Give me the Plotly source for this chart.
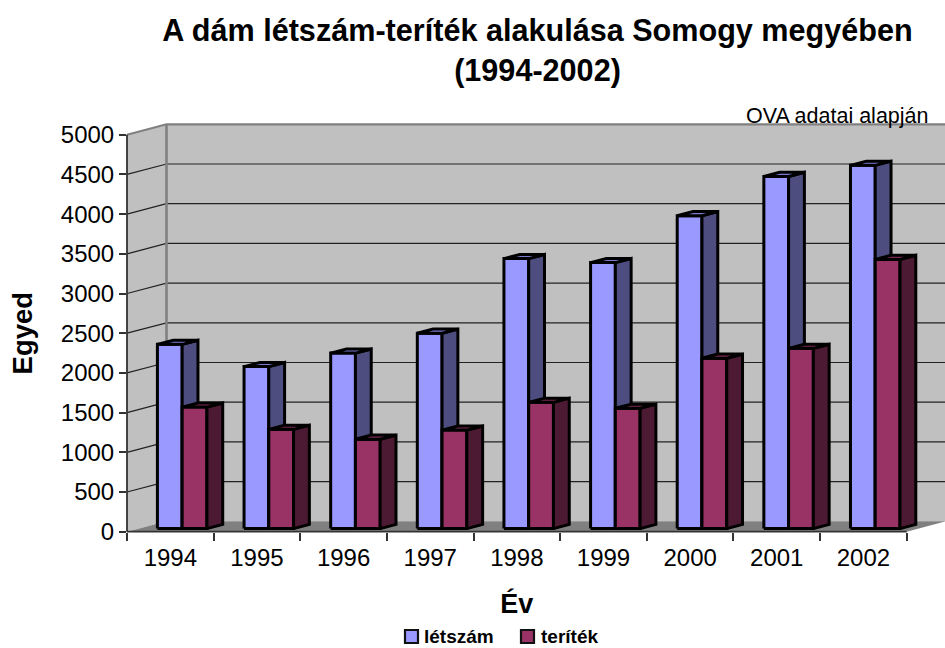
import plotly.graph_objects as go

years = ["1994", "1995", "1996", "1997", "1998", "1999", "2000", "2001", "2002"]
letszam = [2320, 2040, 2210, 2460, 3400, 3350, 3940, 4435, 4575]
teritek = [1530, 1250, 1125, 1240, 1590, 1515, 2145, 2270, 3390]
y_ticks = [0, 500, 1000, 1500, 2000, 2500, 3000, 3500, 4000, 4500, 5000]
series_names = ["létszám", "teríték"]
series_colors = ["#9999FF", "#993366"]

W, H = 945, 648
L, R, T, B = 127.0, 906.7, 134.7, 531.7   # front plane of the 3-D box
OL, OT, OB = 120.0, 115.0, 538.0          # wider drawing area for the box
UX = (R - L) / 9          # pixels per category
UY = (B - T) / 5000       # pixels per value unit
DX = 39.5 / UX            # wall depth in x units
DY = 10.4 / UY            # wall depth in y units
BAR_W = 1 / 3.5
D0, D1 = 0.3, 0.7
PW, PH = W - OL, OB - OT


def P(u, v, d=0.0):
    return u + d * DX, v + d * DY


def px(x):
    return (x - OL) / PW


def py(y):
    return (OB - y) / PH


fig = go.Figure()


def poly(points, fill, line=None, lw=0, name=None):
    xs = [p[0] for p in points] + [points[0][0]]
    ys = [p[1] for p in points] + [points[0][1]]
    fig.add_trace(go.Scatter(
        x=xs, y=ys, xaxis="x2", yaxis="y2", mode="lines", fill="toself", fillcolor=fill,
        line=dict(color=line or fill, width=lw), name=name, showlegend=False,
        hoverinfo="skip"))


def lines(xs, ys, color, width):
    fig.add_trace(go.Scatter(
        x=xs, y=ys, xaxis="x2", yaxis="y2", mode="lines", line=dict(color=color, width=width),
        showlegend=False, hoverinfo="skip"))


n = len(years)
# legend entries (these also keep the visible front-plane axes alive);
# the swatches are drawn closer to the text as shapes below
for nm in series_names:
    fig.add_trace(go.Scatter(
        x=[None], y=[None], mode="markers", name=nm,
        marker=dict(symbol="square", size=11, color="rgba(0,0,0,0)")))

# walls and floor
poly([P(0, 0), P(0, 0, 1), P(n, 0, 1), P(n, 5000, 1), P(0, 5000, 1), P(0, 5000)], "#C0C0C0")
poly([P(0, 0), P(n, 0), P(n, 0, 1), P(0, 0, 1)], "#808080")

# gridlines
gx, gy = [], []
for v in y_ticks[1:-1]:
    for p in (P(0, v), P(0, v, 1), P(n, v, 1)):
        gx.append(p[0]); gy.append(p[1])
    gx.append(None); gy.append(None)
lines(gx, gy, "#222222", 1.2)

# wall border
a, b, c, d = P(0, 5000), P(0, 5000, 1), P(n, 5000, 1), P(0, 0, 1)
lines([a[0], b[0], c[0]], [a[1], b[1], c[1]], "#808080", 2.2)
lines([b[0], d[0]], [b[1], d[1]], "#808080", 2.6)


def bar(u0, u1, v, front, side, top, name):
    poly([P(u0, 0, D0), P(u1, 0, D0), P(u1, v, D0), P(u0, v, D0)], front, "#000000", 3, name)
    poly([P(u1, 0, D0), P(u1, 0, D1), P(u1, v, D1), P(u1, v, D0)], side, "#000000", 3, name)
    poly([P(u0, v, D0), P(u1, v, D0), P(u1, v, D1), P(u0, v, D1)], top, "#000000", 3, name)


for i in range(n):
    c0 = i + 0.5
    bar(c0 - BAR_W, c0, letszam[i], "#9999FF", "#4D4D80", "#7A7AD0", series_names[0])
    bar(c0, c0 + BAR_W, teritek[i], "#993366", "#4D1A33", "#7A2952", series_names[1])

# axis lines
lines([0, 0], [0, 5000], "#333333", 1.8)
lines([0, n], [0, 0], "#333333", 1.8)

FONT = "Liberation Sans, Arial, sans-serif"
swatches = [dict(type="rect", xref="paper", yref="paper", x0=px(x0), x1=px(x0 + 13), y0=py(643), y1=py(630),
                 fillcolor=col, line=dict(color="#111111", width=2.2))
            for x0, col in zip((405, 521), series_colors)]

fig.update_layout(
    width=W, height=H, autosize=False,
    margin=dict(l=OL, r=0, t=OT, b=H - OB, pad=0, autoexpand=False),
    paper_bgcolor="#FFFFFF", plot_bgcolor="rgba(0,0,0,0)",
    font=dict(family=FONT, color="#000000"),
    title=dict(text="<b>A dám létszám-teríték alakulása Somogy megyében<br>(1994-2002)</b>",
               x=537.5 / W, xanchor="center", y=1 - 41 / H, yanchor="middle",
               font=dict(size=30.6, family=FONT, color="#000000")),
    xaxis=dict(domain=[(L - OL) / PW, (R - OL) / PW], range=[0, n], anchor="y",
               tickmode="array", tickvals=[i + 0.5 for i in range(n)], ticktext=years,
               ticks="outside", ticklen=4, tickcolor="rgba(0,0,0,0)", tickfont=dict(size=24),
               minor=dict(tickmode="array", tickvals=list(range(n + 1)), ticks="outside", ticklen=8,
                          tickcolor="#333333", tickwidth=1.5, showgrid=False),
               showgrid=False, zeroline=False, showline=False,
               title=dict(text="<b>Év</b>", font=dict(size=27), standoff=24)),
    yaxis=dict(domain=[(OB - B) / PH, (OB - T) / PH], range=[0, 5000], anchor="x",
               tickmode="array", tickvals=y_ticks,
               ticks="outside", ticklen=7, tickcolor="#333333", tickwidth=1.5, tickfont=dict(size=24),
               showgrid=False, zeroline=False, showline=False,
               title=dict(text="<b>Egyed</b>", font=dict(size=27.5), standoff=20)),
    xaxis2=dict(domain=[0, 1], range=[(OL - L) / UX, (W - L) / UX], anchor="y2", visible=False),
    yaxis2=dict(domain=[0, 1], range=[(B - OB) / UY, (B - OT) / UY], anchor="x2", visible=False),
    legend=dict(orientation="h", x=px(384), xanchor="left", y=py(636), yanchor="middle",
                entrywidth=72, entrywidthmode="pixels", bgcolor="rgba(0,0,0,0)",
                font=dict(size=19, weight="bold")),
    shapes=swatches,
    annotations=[dict(text="OVA adatai alapján", xref="paper", yref="paper",
                      x=px(744.5), y=py(129), xanchor="left", yanchor="bottom",
                      showarrow=False, font=dict(size=21.5), borderpad=0)],
)

fig.write_html("out.html", config=dict(displayModeBar=False),
               post_script="document.body.style.margin='0';")
